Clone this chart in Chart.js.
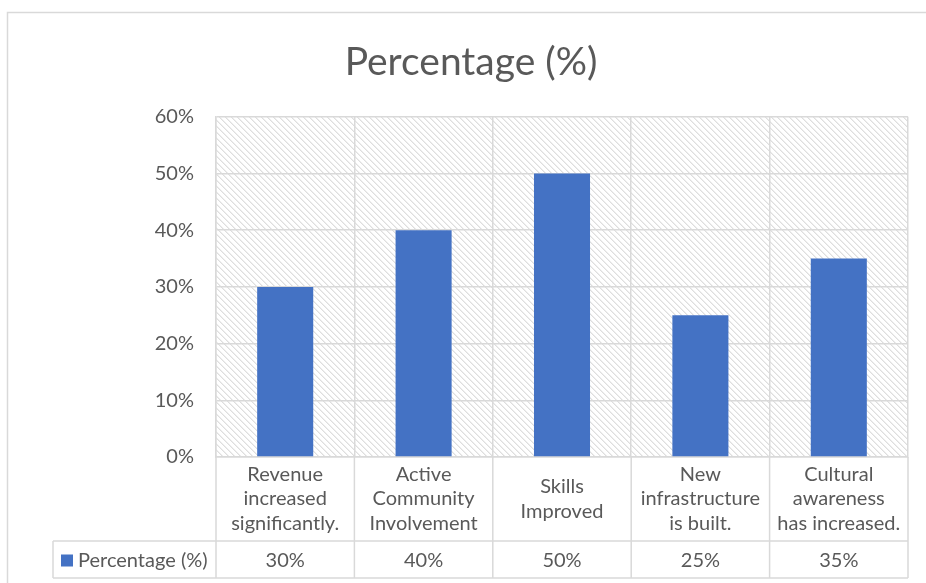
<!DOCTYPE html>
<html>
<head>
<meta charset="utf-8">
<script src="https://cdn.jsdelivr.net/npm/chart.js@4.4.0/dist/chart.umd.min.js"></script>
<style>
  html, body { margin: 0; padding: 0; background: #ffffff; }
  #wrap { width: 926px; height: 583px; position: relative; }
</style>
</head>
<body>
<div id="wrap"><canvas id="c" width="926" height="583"></canvas></div>
<script>
const categories = [
  ["Revenue", "increased", "significantly."],
  ["Active", "Community", "Involvement"],
  ["Skills", "Improved"],
  ["New", "infrastructure", "is built."],
  ["Cultural", "awareness", "has increased."]
];
const seriesName = "Percentage (%)";
const seriesValues = [30, 40, 50, 25, 35];
const chartTitle = "Percentage (%)";

const FONT = "Lato, 'Open Sans', 'Liberation Sans', sans-serif";
const TEXT = "#595959";
const GRID = "#d9d9d9";
const BAR = "#4472C4";

function makeHatch(ctx) {
  const c = document.createElement('canvas');
  c.width = 6; c.height = 6;
  const g = c.getContext('2d');
  g.fillStyle = '#ffffff';
  g.fillRect(0, 0, 6, 6);
  for (let y = 0; y < 6; y++) {
    for (let x = 0; x < 6; x++) {
      const d = ((x - y) % 6 + 6) % 6;
      if (d === 0) { g.fillStyle = '#dedede'; g.fillRect(x, y, 1, 1); }
      else if (d === 1) { g.fillStyle = '#eeeeee'; g.fillRect(x, y, 1, 1); }
    }
  }
  return ctx.createPattern(c, 'repeat');
}

const tablePlugin = {
  id: 'tablePlugin',
  beforeDraw(chart) {
    const ctx = chart.ctx;
    const a = chart.chartArea;
    ctx.save();
    ctx.strokeStyle = GRID;
    ctx.lineWidth = 1.5;
    ctx.strokeRect(7.5, 12.5, 940, 600);
    ctx.fillStyle = makeHatch(ctx);
    ctx.fillRect(a.left, a.top, a.right - a.left, a.bottom - a.top);
    ctx.restore();
  },
  afterDraw(chart) {
    const ctx = chart.ctx;
    const a = chart.chartArea;
    const xs = chart.scales.x;
    const n = categories.length;
    const cw = (a.right - a.left) / n;
    const rowTop = a.bottom;
    const valTop = a.bottom + 84;
    const valBot = valTop + 37;
    const legendLeft = 53;
    ctx.save();
    ctx.strokeStyle = GRID;
    ctx.lineWidth = 1.5;
    ctx.beginPath();
    for (let i = 0; i <= n; i++) {
      const x = a.left + i * cw;
      ctx.moveTo(x, rowTop);
      ctx.lineTo(x, valBot);
    }
    ctx.moveTo(legendLeft, valTop);
    ctx.lineTo(legendLeft, valBot);
    ctx.moveTo(legendLeft, valTop);
    ctx.lineTo(a.right, valTop);
    ctx.moveTo(legendLeft, valBot);
    ctx.lineTo(a.right, valBot);
    ctx.stroke();

    ctx.fillStyle = TEXT;
    ctx.font = "20px " + FONT;
    ctx.textAlign = 'center';
    ctx.textBaseline = 'middle';
    const lh = 24.5;
    const rowMid = rowTop + 84 / 2;
    categories.forEach((lines, i) => {
      const cx = xs.getPixelForValue(i);
      const start = rowMid - (lines.length - 1) * lh / 2;
      lines.forEach((t, j) => ctx.fillText(t, cx, start + j * lh));
    });
    const vMid = (valTop + valBot) / 2 + 1;
    seriesValues.forEach((v, i) => {
      ctx.fillText(v + '%', xs.getPixelForValue(i), vMid);
    });
    ctx.fillStyle = BAR;
    ctx.fillRect(61, vMid - 6, 12, 12);
    ctx.fillStyle = TEXT;
    ctx.textAlign = 'left';
    ctx.fillText(seriesName, 78, vMid);
    ctx.restore();
  }
};

new Chart(document.getElementById('c'), {
  type: 'bar',
  data: {
    labels: categories,
    datasets: [{
      label: seriesName,
      data: seriesValues,
      backgroundColor: BAR,
      borderWidth: 0,
      categoryPercentage: 1.0,
      barPercentage: 0.405
    }]
  },
  options: {
    responsive: false,
    animation: false,
    devicePixelRatio: 1,
    layout: { padding: { left: 34, right: 18, top: 0, bottom: 42 } },
    plugins: {
      legend: { display: false },
      tooltip: { enabled: false },
      title: {
        display: true,
        text: chartTitle,
        color: TEXT,
        font: { family: FONT, size: 39, weight: 'normal' },
        padding: { top: 39, bottom: 31 }
      }
    },
    scales: {
      x: {
        offset: true,
        grid: { offset: true, color: GRID, lineWidth: 1.5, drawTicks: false },
        border: { color: GRID, width: 1.5 },
        ticks: { display: false },
        afterFit(s) { s.height = 84; }
      },
      y: {
        min: 0, max: 60,
        ticks: {
          stepSize: 10,
          color: TEXT,
          padding: 22,
          font: { family: FONT, size: 20 },
          callback: v => v + '%'
        },
        grid: { color: GRID, lineWidth: 1.5, drawTicks: false },
        border: { color: GRID, width: 1.5 },
        afterFit(s) { s.width = 182; }
      }
    }
  },
  plugins: [tablePlugin]
});
</script>
</body>
</html>
